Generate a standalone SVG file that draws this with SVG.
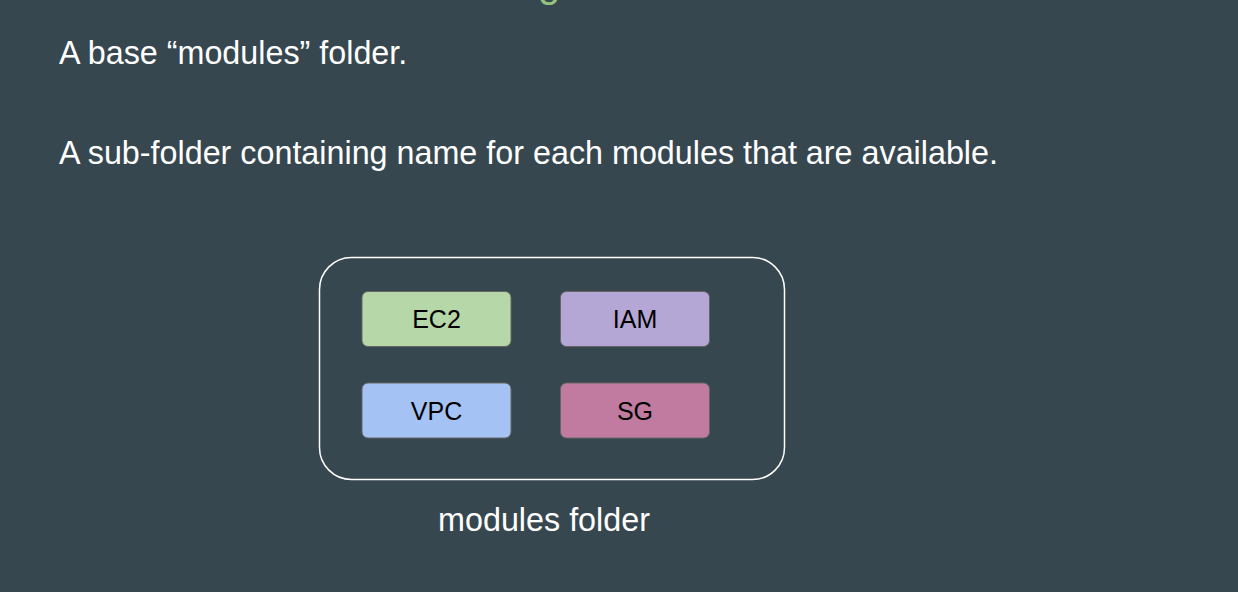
<svg xmlns="http://www.w3.org/2000/svg" width="1238" height="592" viewBox="0 0 1238 592">
<style>
.t{font-family:"Liberation Sans",Arial,sans-serif;fill:#ffffff}
.n{font-family:"Liberation Sans",Arial,sans-serif;fill:#000000;font-size:25px;text-anchor:middle}
.b{stroke:#666666;stroke-width:1}
</style>
<rect x="0" y="0" width="1238" height="592" fill="#37474f"/>
<text x="538" y="-3" font-family="Liberation Sans,Arial,sans-serif" font-size="40" fill="#93c47d">g</text>
<text class="t" x="59" y="64" font-size="32.3">A base “modules” folder.</text>
<text class="t" x="59" y="164" font-size="32.3">A sub-folder containing name for each modules that are available.</text>
<g id="folder">
<rect x="319.5" y="257.5" width="465" height="222" rx="32" fill="none" stroke="#ffffff" stroke-width="1.5"/>
<text class="t" x="544" y="531" font-size="32.3" text-anchor="middle">modules folder</text>
</g>
<g id="ec2"><rect class="b" x="362" y="291.5" width="149" height="55" rx="6" fill="#b6d7a8"/><text class="n" x="436.5" y="328">EC2</text></g>
<g id="iam"><rect class="b" x="560.5" y="291.5" width="149" height="55" rx="6" fill="#b4a7d6"/><text class="n" x="635" y="328">IAM</text></g>
<g id="vpc"><rect class="b" x="362" y="383" width="149" height="55" rx="6" fill="#a4c2f4"/><text class="n" x="436.5" y="419.5">VPC</text></g>
<g id="sg"><rect class="b" x="560.5" y="383" width="149" height="55" rx="6" fill="#c27ba0"/><text class="n" x="635" y="419.5">SG</text></g>
</svg>
